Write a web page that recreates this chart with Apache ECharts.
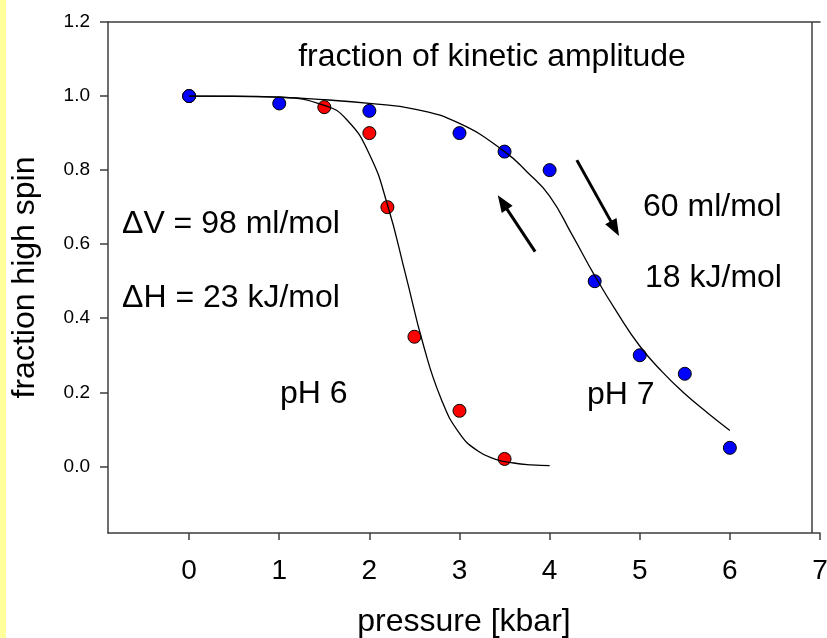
<!DOCTYPE html>
<html>
<head>
<meta charset="utf-8">
<script src="https://cdn.jsdelivr.net/npm/echarts@6/dist/echarts.min.js"></script>
<style>
  html, body {
    margin: 0;
    padding: 0;
    background: linear-gradient(to right, #ffff9c 6px, #ffffff 6px);
  }
  #spinChart {
    width: 827px;
    height: 638px;
  }
</style>
</head>
<body>
<div id="spinChart"></div>
<script>
// pressure ticks / fraction ticks
const pressureTicks = [0, 1, 2, 3, 4, 5, 6, 7];
const fractionTicks = [0, 0.2, 0.4, 0.6, 0.8, 1.0, 1.2];

// pH 6 measurements (red)
const acidPressure = [0, 1.5, 2, 2.2, 2.5, 3, 3.5];
const acidFraction = [1.0, 0.97, 0.90, 0.70, 0.35, 0.15, 0.02];

// pH 7 measurements (blue)
const neutralPressure = [0, 1, 2, 3, 3.5, 4, 4.5, 5, 5.5, 6];
const neutralFraction = [1.0, 0.98, 0.96, 0.90, 0.85, 0.80, 0.50, 0.30, 0.25, 0.05];

// fitted curves
const acidFitPressure = [0, 0.5, 1, 1.5, 1.75, 2, 2.2, 2.4, 2.6, 2.8, 3, 3.2, 3.4, 3.6, 3.8, 4];
const acidFitFraction = [1.0, 1.0, 0.997, 0.975, 0.936, 0.843, 0.707, 0.52, 0.327, 0.18, 0.089, 0.042, 0.019, 0.009, 0.004, 0.002];
const neutralFitPressure = [0, 0.5, 1, 1.5, 2, 2.5, 3, 3.5, 3.75, 4, 4.25, 4.5, 4.75, 5, 5.25, 5.5, 5.75, 6];
const neutralFitFraction = [1.0, 0.999, 0.997, 0.99, 0.98, 0.965, 0.926, 0.85, 0.795, 0.73, 0.625, 0.515, 0.415, 0.325, 0.255, 0.196, 0.145, 0.097];

const pairs = (xs, ys) => xs.map((x, i) => [x, ys[i]]);

const fontName = '"Liberation Sans", Arial, sans-serif';
const axisColor = '#3c3c3c';
const bigFont = '32px ' + fontName;

const myChart = echarts.init(document.getElementById('spinChart'), null, { renderer: 'canvas' });

const option = {
  animation: false,
  title: {
    text: 'fraction of kinetic amplitude',
    left: 487,
    top: 36,
    textAlign: 'center',
    textStyle: {
      fontFamily: fontName,
      fontSize: 32,
      fontWeight: 'normal',
      color: '#000'
    }
  },
  grid: {
    left: 108,
    top: 22,
    width: 712,
    height: 511,
    containLabel: false,
    outerBoundsMode: 'none'
  },
  xAxis: [
    {
      type: 'value',
      min: -0.9,
      max: 7,
      position: 'bottom',
      name: 'pressure [kbar]',
      nameLocation: 'middle',
      nameGap: 73,
      nameTextStyle: { fontFamily: fontName, fontSize: 32, color: '#000' },
      axisLine: { show: true, onZero: false, lineStyle: { color: axisColor, width: 1.5 } },
      axisTick: { show: true, customValues: pressureTicks, length: 7, lineStyle: { color: axisColor, width: 1.5 } },
      axisLabel: {
        customValues: pressureTicks,
        margin: 24,
        fontFamily: fontName,
        fontSize: 28,
        color: '#000'
      },
      splitLine: { show: false }
    },
    {
      type: 'value',
      min: -0.9,
      max: 7,
      position: 'top',
      axisLine: { show: true, onZero: false, lineStyle: { color: axisColor, width: 1.5 } },
      axisTick: { show: false },
      axisLabel: { show: false },
      splitLine: { show: false }
    }
  ],
  yAxis: {
    type: 'value',
    min: -0.18,
    max: 1.2,
    name: 'fraction high spin',
    nameLocation: 'middle',
    nameGap: 67,
    nameTextStyle: { fontFamily: fontName, fontSize: 32, color: '#000' },
    axisLine: { show: true, onZero: false, lineStyle: { color: axisColor, width: 1.5 } },
    axisTick: { show: true, customValues: fractionTicks, length: 8, lineStyle: { color: axisColor, width: 1.5 } },
    axisLabel: {
      customValues: fractionTicks,
      margin: 18,
      fontFamily: fontName,
      fontSize: 19,
      color: '#000',
      formatter: v => v.toFixed(1)
    },
    splitLine: { show: false }
  },
  series: [
    {
      name: 'pH 6',
      type: 'scatter',
      z: 2,
      symbol: 'circle',
      symbolSize: 13,
      itemStyle: { color: '#ff0000', borderColor: '#000', borderWidth: 1, opacity: 1 },
      data: pairs(acidPressure, acidFraction)
    },
    {
      name: 'pH 7',
      type: 'scatter',
      z: 3,
      symbol: 'circle',
      symbolSize: 13,
      itemStyle: { color: '#0000ff', borderColor: '#000', borderWidth: 1, opacity: 1 },
      data: pairs(neutralPressure, neutralFraction)
    },
    {
      name: 'pH 6 fit',
      type: 'line',
      z: 4,
      smooth: 0.5,
      showSymbol: false,
      symbol: 'none',
      lineStyle: { color: '#000', width: 1.3 },
      data: pairs(acidFitPressure, acidFitFraction),
      markLine: {
        silent: true,
        symbol: ['none', 'none'],
        label: { show: false },
        lineStyle: { color: axisColor, width: 1.5, type: 'solid' },
        data: [{ xAxis: 6.91 }]
      }
    },
    {
      name: 'pH 7 fit',
      type: 'line',
      z: 4,
      smooth: 0.5,
      showSymbol: false,
      symbol: 'none',
      lineStyle: { color: '#000', width: 1.3 },
      data: pairs(neutralFitPressure, neutralFitFraction),
      markLine: {
        silent: true,
        label: { show: false },
        symbol: ['none', 'triangle'],
        symbolSize: [13, 17],
        lineStyle: { color: '#000', width: 3, type: 'solid' },
        itemStyle: { color: '#000' },
        data: [
          [{ coord: [3.839, 0.58] }, { coord: [3.477, 0.713] }],
          [{ coord: [4.302, 0.827] }, { coord: [4.725, 0.642] }]
        ]
      }
    }
  ],
  graphic: [
    { type: 'text', x: 122, y: 224, style: { text: '\u0394V = 98 ml/mol', font: bigFont, fill: '#000', textAlign: 'left', textVerticalAlign: 'middle' } },
    { type: 'text', x: 122, y: 298, style: { text: '\u0394H = 23 kJ/mol', font: bigFont, fill: '#000', textAlign: 'left', textVerticalAlign: 'middle' } },
    { type: 'text', x: 643, y: 207, style: { text: '60 ml/mol', font: bigFont, fill: '#000', textAlign: 'left', textVerticalAlign: 'middle' } },
    { type: 'text', x: 645, y: 278, style: { text: '18 kJ/mol', font: bigFont, fill: '#000', textAlign: 'left', textVerticalAlign: 'middle' } },
    { type: 'text', x: 280, y: 394, style: { text: 'pH 6', font: bigFont, fill: '#000', textAlign: 'left', textVerticalAlign: 'middle' } },
    { type: 'text', x: 587, y: 395, style: { text: 'pH 7', font: bigFont, fill: '#000', textAlign: 'left', textVerticalAlign: 'middle' } }
  ]
};

myChart.setOption(option);
</script>
</body>
</html>
